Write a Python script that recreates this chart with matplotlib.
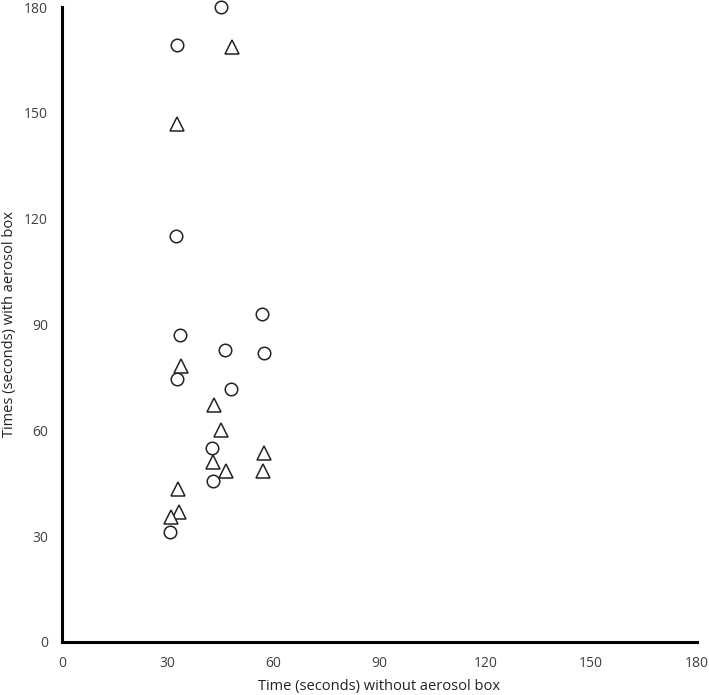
import matplotlib
matplotlib.use("Agg")
import matplotlib.pyplot as plt

# Times (seconds)
circle_without = [45.0, 32.7, 32.3, 56.8, 33.5, 46.2, 57.2, 32.7, 47.9, 42.5, 42.9, 30.6]
circle_with = [180.0, 169.2, 115.1, 93.0, 87.1, 82.8, 82.0, 74.5, 71.8, 54.9, 45.6, 31.1]

triangle_without = [48.2, 32.5, 33.8, 43.1, 45.2, 57.4, 42.7, 46.5, 57.1, 33.0, 33.1, 30.8]
triangle_with = [168.7, 146.8, 78.2, 67.2, 60.1, 53.7, 51.1, 48.6, 48.6, 43.4, 36.8, 35.3]

ticks = [0, 30, 60, 90, 120, 150, 180]

plt.rcParams["font.family"] = ["Open Sans", "DejaVu Sans"]

fig = plt.figure(figsize=(7.09, 6.95), dpi=100)
ax = fig.add_axes([0.0874, 0.0763, 0.8956, 0.9136])

ax.plot(circle_without, circle_with, linestyle="none", marker="o", markersize=9,
        markerfacecolor="white", markeredgecolor="#222222", markeredgewidth=1.1, clip_on=False)
ax.plot(triangle_without, triangle_with, linestyle="none", marker="^", markersize=9.5,
        markerfacecolor="white", markeredgecolor="#222222", markeredgewidth=1.1, clip_on=False)

ax.set_xlim(0, 180)
ax.set_ylim(0, 180)
ax.set_xticks(ticks)
ax.set_yticks(ticks)
ax.tick_params(length=0, labelsize=10, colors="#404040", pad=10)

for side in ["top", "right"]:
    ax.spines[side].set_visible(False)
for side in ["left", "bottom"]:
    ax.spines[side].set_linewidth(2.2)
    ax.spines[side].set_color("black")

ax.set_xlabel("Time (seconds) without aerosol box", fontsize=10.5, color="#222222", labelpad=6)
ax.set_ylabel("Times (seconds) with aerosol box", fontsize=10.5, color="#222222")
ax.yaxis.set_label_coords(-0.071, 0.5)

plt.savefig("out.png", dpi=100)
